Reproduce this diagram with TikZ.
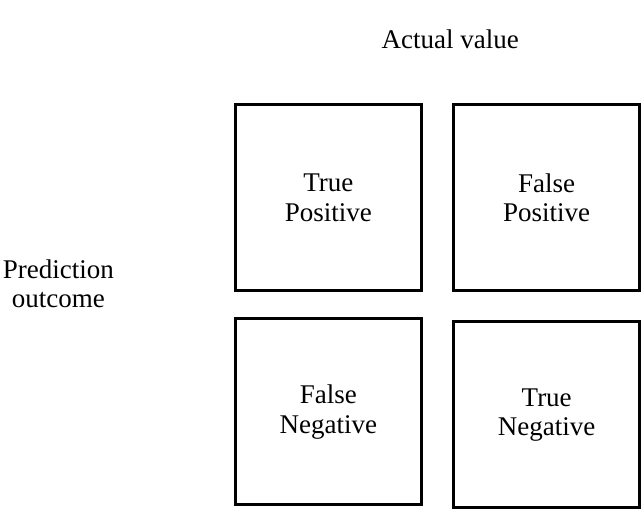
\documentclass[tikz,border=0pt]{standalone}
\usepackage{fontspec}
\setmainfont{Liberation Serif}
\begin{document}
\begin{tikzpicture}[x=1pt,y=-1pt,
  cell/.style={draw=black,line width=3pt,minimum width=186.5pt,minimum height=186pt,
    inner sep=0pt,align=center,font=\fontsize{27}{29.5}\selectfont},
  lbl/.style={inner sep=0pt,align=center,font=\fontsize{27}{28.5}\selectfont}]
\useasboundingbox (0,0) rectangle (644,516);
\node[cell] (tp) at (328.3,197.8) {True\\Positive};
\node[cell] (fp) at (546.7,197.8) {False\\Positive};
\node[cell] (fn) at (328.3,411.9) {False\\Negative};
\node[cell] (tn) at (546.7,414.9) {True\\Negative};
\node[lbl,anchor=base] (actual) at (450.3,48.3) {Actual value};
\node[lbl] (pred) at (58.3,284) {Prediction\\outcome};
\end{tikzpicture}
\end{document}
